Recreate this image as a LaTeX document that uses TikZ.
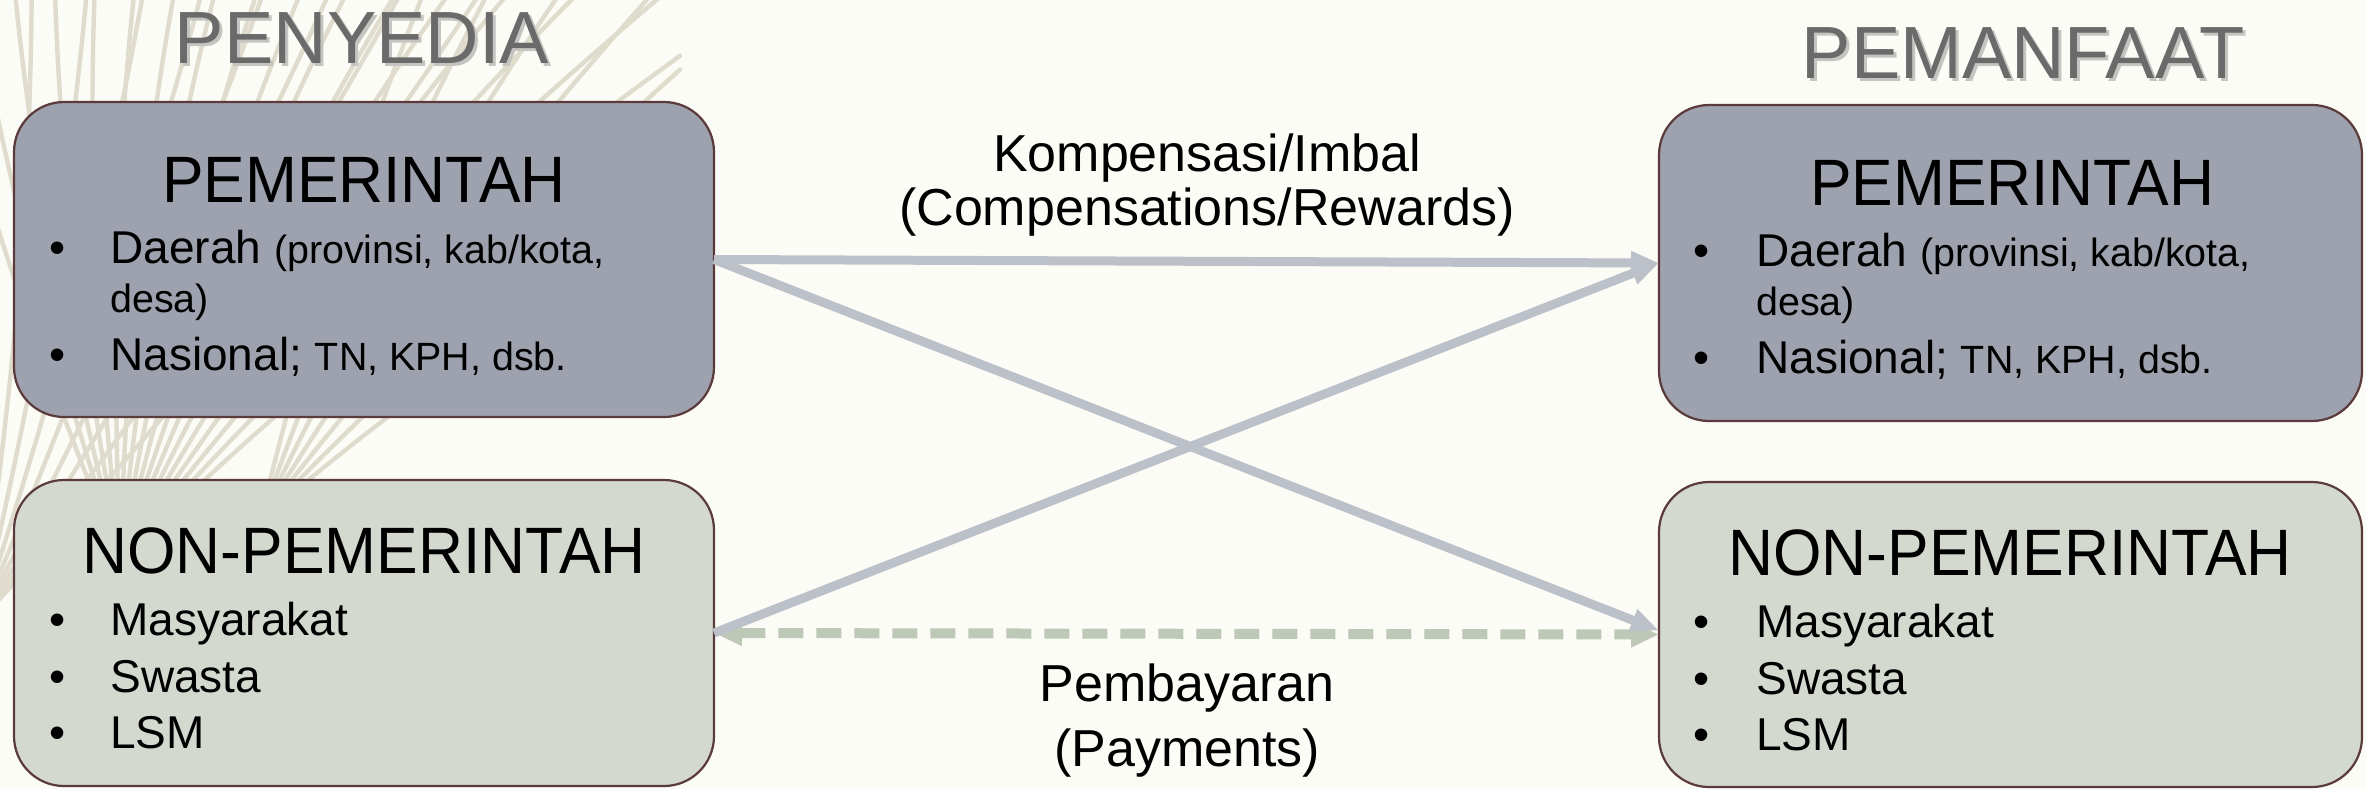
\documentclass[tikz,border=0pt]{standalone}
\usepackage{fontspec}
\setmainfont{Liberation Sans}
\newfontfamily\boxfont[FakeStretch=0.95]{Liberation Sans}
\usetikzlibrary{arrows.meta,calc}
\definecolor{bgc}{HTML}{FCFCF6}
\definecolor{frondc}{HTML}{DFDCCD}
\definecolor{govc}{HTML}{9EA1AE}
\definecolor{nonc}{HTML}{D3D9CF}
\definecolor{bordc}{HTML}{5B3A3C}
\definecolor{arrc}{HTML}{BCC0C9}
\definecolor{dashc}{HTML}{BDC8B7}
\definecolor{headc}{HTML}{6A6A6A}
\definecolor{shadc}{HTML}{C4C4C0}
\begin{document}
\begin{tikzpicture}[x=0.5pt,y=-0.5pt,
  box/.style={draw=bordc, line width=1.1pt, rounded corners=25pt, inner sep=0pt, outer sep=0pt},
  boxtitle/.style={anchor=base, inner sep=0pt, font=\boxfont\fontsize{32.8}{36}\selectfont},
  bigline/.style={anchor=base west, inner sep=0pt, font=\fontsize{23}{27}\selectfont},
  smallline/.style={anchor=base west, inner sep=0pt, font=\fontsize{19.7}{23}\selectfont},
  bulletmark/.style={anchor=base, inner sep=0pt, font=\fontsize{23}{27}\selectfont},
  flowlabel/.style={anchor=base, inner sep=0pt, font=\fontsize{26}{30}\selectfont},
  heading/.style={anchor=base, inner sep=0pt, text=headc, font=\fontsize{37}{42}\selectfont},
  headshadow/.style={anchor=base, inner sep=0pt, text=shadc, font=\fontsize{37}{42}\selectfont},
  frond/.style={draw=frondc, line width=2.2pt, line cap=round},
  flowarrow/.style={draw=arrc, line width=4.5pt, -{Triangle[length=14pt,width=11pt]}},
  payarrow/.style={draw=dashc, line width=5pt, dash pattern=on 12.5pt off 6.5pt, {Triangle[length=14pt,width=12pt]}-{Triangle[length=14pt,width=12pt]}}
]
\useasboundingbox (0,0) rectangle (2366,789);
\fill[bgc] (0,0) rectangle (2366,789);

% palm frond decoration
\begin{scope}
\clip (0,0) rectangle (2366,789);
\foreach \a in {38,42,...,106}{
  \pgfmathsetmacro\L{min(900,560/max(cos(\a),0.6))}
  \draw[frond] (120,560) to[bend left=6] ++(-\a:\L);
}
\foreach \a in {52,57,...,97}{
  \pgfmathsetmacro\L{min(900,700/max(cos(\a),0.6))}
  \draw[frond] (-20,620) to[bend right=5] ++(-\a:\L);
}
\foreach \a in {35,41,...,71}{
  \pgfmathsetmacro\L{min(800,420/max(cos(\a),0.5))}
  \draw[frond] (260,520) to[bend left=5] ++(-\a:\L);
}
\end{scope}

% headings
\node[headshadow] (penyediash) at (365,66) {PENYEDIA};
\node[heading] (penyedia) at (362,63) {PENYEDIA};
\node[headshadow] (pemanfaatsh) at (2026,81) {PEMANFAAT};
\node[heading] (pemanfaat) at (2023,78) {PEMANFAAT};

% boxes
\node[box, fill=govc, minimum width=350pt, minimum height=157.5pt] (lt) at (364,259.5) {};
\node[box, fill=govc, minimum width=351.5pt, minimum height=158pt] (rt) at (2010.5,263) {};
\node[box, fill=nonc, minimum width=350pt, minimum height=153pt] (lb) at (364,633) {};
\node[box, fill=nonc, minimum width=351.5pt, minimum height=152.5pt] (rb) at (2010.5,634.5) {};

% left top text
\node[boxtitle] (lttitle) at (364,202) {PEMERINTAH};
\node[bulletmark] (ltb1) at (58,263) {•};
\node[bigline] (ltl1) at (110,263) {Daerah {\fontsize{19.7}{23}\selectfont (provinsi, kab/kota,}};
\node[smallline] (ltl2) at (110,312) {desa)};
\node[bulletmark] (ltb2) at (58,370) {•};
\node[bigline] (ltl3) at (110,370) {Nasional; {\fontsize{19.7}{23}\selectfont TN, KPH, dsb.}};

% right top text
\node[boxtitle] (rttitle) at (2012,205) {PEMERINTAH};
\node[bulletmark] (rtb1) at (1702,266) {•};
\node[bigline] (rtl1) at (1756,266) {Daerah {\fontsize{19.7}{23}\selectfont (provinsi, kab/kota,}};
\node[smallline] (rtl2) at (1756,315) {desa)};
\node[bulletmark] (rtb2) at (1702,373) {•};
\node[bigline] (rtl3) at (1756,373) {Nasional; {\fontsize{19.7}{23}\selectfont TN, KPH, dsb.}};

% left bottom text
\node[boxtitle] (lbtitle) at (364,573) {NON-PEMERINTAH};
\node[bulletmark] (lbb1) at (58,635) {•};
\node[bigline] (lbl1) at (110,635) {Masyarakat};
\node[bulletmark] (lbb2) at (58,692) {•};
\node[bigline] (lbl2) at (110,692) {Swasta};
\node[bulletmark] (lbb3) at (58,748) {•};
\node[bigline] (lbl3) at (110,748) {LSM};

% right bottom text
\node[boxtitle] (rbtitle) at (2010,575) {NON-PEMERINTAH};
\node[bulletmark] (rbb1) at (1702,637) {•};
\node[bigline] (rbl1) at (1756,637) {Masyarakat};
\node[bulletmark] (rbb2) at (1702,694) {•};
\node[bigline] (rbl2) at (1756,694) {Swasta};
\node[bulletmark] (rbb3) at (1702,750) {•};
\node[bigline] (rbl3) at (1756,750) {LSM};

% flow labels
\node[flowlabel] (komp1) at (1207,171) {Kompensasi/Imbal};
\node[flowlabel] (komp2) at (1207,225) {(Compensations/Rewards)};
\node[flowlabel] (pay1) at (1187,701) {Pembayaran};
\node[flowlabel] (pay2) at (1187,766) {(Payments)};

% connectors
\draw[payarrow] (lb.east) -- (rb.west);
\draw[flowarrow] (lt.east) -- (rt.west);
\draw[flowarrow] (lt.east) -- ($(rb.west)+(0,-4)$);
\draw[flowarrow] (lb.east) -- (rt.west);
\end{tikzpicture}
\end{document}
